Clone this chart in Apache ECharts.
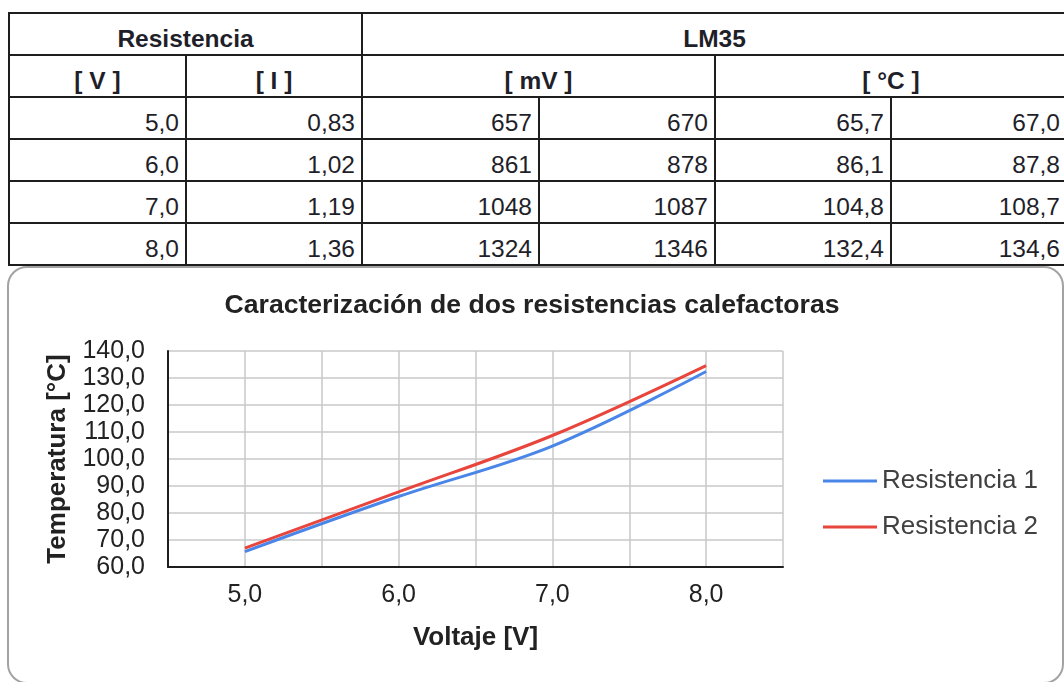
<!DOCTYPE html>
<html>
<head>
<meta charset="utf-8">
<script src="https://cdn.jsdelivr.net/npm/echarts@6/dist/echarts.min.js"></script>
<style>
  html, body { margin: 0; padding: 0; background: #fff; }
  body { width: 1064px; height: 682px; position: relative; overflow: hidden;
         font-family: 'Liberation Sans', Arial, sans-serif; }
  .cell { position: absolute; box-sizing: border-box; border: 2px solid #1e1e1e; background: #fff; }
  .txt { position: absolute; bottom: 2.5px; left: 0; right: 6px; font-size: 24.5px; line-height: 24.5px;
         color: #1f1f2a; white-space: nowrap; text-align: right; }
  .txt.h { font-weight: bold; text-align: center; right: 0; }
  #box { position: absolute; left: 7px; top: 266px; width: 1057px; height: 418px; box-sizing: border-box;
         border: 2px solid #a3a3a3; border-radius: 20px; background: #fff; }
  #chart { position: absolute; left: 0; top: 0; width: 1064px; height: 682px; }
</style>
</head>
<body>
<div id="table"></div>
<div id="box"></div>
<div id="chart"></div>
<script>
// ---- data ----
const voltage = [5.0, 6.0, 7.0, 8.0];
const current = [0.83, 1.02, 1.19, 1.36];
const mvR1 = [657, 861, 1048, 1324];
const mvR2 = [670, 878, 1087, 1346];
const tempR1 = [65.7, 86.1, 104.8, 132.4];
const tempR2 = [67.0, 87.8, 108.7, 134.6];
const groupHeaders = ['Resistencia', 'LM35'];
const unitHeaders = ['[ V ]', '[ I ]', '[ mV ]', '[ °C ]'];
const seriesNames = ['Resistencia 1', 'Resistencia 2'];
const chartTitle = 'Caracterización de dos resistencias calefactoras';
const xAxisName = 'Voltaje [V]';
const yAxisName = 'Temperatura [°C]';

// ---- table layout ----
const colX = [9, 186, 362, 539, 715, 891, 1067];
const rowY = [13, 55, 97, 139, 181, 223, 265];
const fmt = (v, d) => v.toFixed(d).replace('.', ',');
const tbl = document.getElementById('table');
function cell(c0, c1, r, text, header) {
  const d = document.createElement('div');
  d.className = 'cell';
  d.style.left = (colX[c0] - 1) + 'px';
  d.style.top = (rowY[r] - 1) + 'px';
  d.style.width = (colX[c1] - colX[c0] + 2) + 'px';
  d.style.height = (rowY[r + 1] - rowY[r] + 2) + 'px';
  const t = document.createElement('div');
  t.className = 'txt' + (header ? ' h' : '');
  t.textContent = text;
  d.appendChild(t);
  tbl.appendChild(d);
}
cell(0, 2, 0, groupHeaders[0], true);
cell(2, 6, 0, groupHeaders[1], true);
cell(0, 1, 1, unitHeaders[0], true);
cell(1, 2, 1, unitHeaders[1], true);
cell(2, 4, 1, unitHeaders[2], true);
cell(4, 6, 1, unitHeaders[3], true);
for (let i = 0; i < voltage.length; i++) {
  const r = i + 2;
  cell(0, 1, r, fmt(voltage[i], 1));
  cell(1, 2, r, fmt(current[i], 2));
  cell(2, 3, r, String(mvR1[i]));
  cell(3, 4, r, String(mvR2[i]));
  cell(4, 5, r, fmt(tempR1[i], 1));
  cell(5, 6, r, fmt(tempR2[i], 1));
}

// ---- chart ----
const FONT = "'Liberation Sans', Arial, sans-serif";
const chart = echarts.init(document.getElementById('chart'), null, { renderer: 'canvas' });
chart.setOption({
  animation: false,
  textStyle: { fontFamily: FONT },
  title: {
    text: chartTitle, left: 'center', top: 287,
    textStyle: { fontFamily: FONT, fontSize: 26.6, fontWeight: 'bold', color: '#222' }
  },
  legend: {
    orient: 'vertical', left: 818, top: 463, padding: 5, icon: 'rect',
    itemWidth: 54, itemHeight: 3, itemGap: 20,
    textStyle: { fontFamily: FONT, fontSize: 26, color: '#404040', lineHeight: 26 },
    data: seriesNames
  },
  grid: { left: 168, top: 351, width: 615, height: 216, containLabel: false },
  xAxis: {
    type: 'value', min: 4.5, max: 8.5, interval: 0.5,
    name: xAxisName, nameLocation: 'middle', nameGap: 58,
    nameTextStyle: { fontFamily: FONT, fontSize: 26, fontWeight: 'bold', color: '#222' },
    axisLine: { show: true, onZero: false, lineStyle: { color: '#1e1e1e', width: 2 } },
    axisTick: { show: false },
    axisLabel: {
      fontFamily: FONT, fontSize: 25, color: '#222', margin: 16,
      formatter: v => (Math.abs(v - Math.round(v)) < 1e-9 && v >= 5 && v <= 8) ? fmt(v, 1) : ''
    },
    splitLine: { show: true, lineStyle: { color: '#c8c8c8', width: 1.5 } }
  },
  yAxis: {
    type: 'value', min: 60, max: 140, interval: 10,
    name: yAxisName, nameLocation: 'middle', nameGap: 97,
    nameTextStyle: { fontFamily: FONT, fontSize: 26, fontWeight: 'bold', color: '#222' },
    axisLine: { show: true, lineStyle: { color: '#1e1e1e', width: 2 } },
    axisTick: { show: false },
    axisLabel: { fontFamily: FONT, fontSize: 25, color: '#222', margin: 23, formatter: v => fmt(v, 1) },
    splitLine: { show: true, lineStyle: { color: '#c8c8c8', width: 1.5 } }
  },
  series: [
    {
      name: seriesNames[0], type: 'line', smooth: 0.35, symbol: 'none',
      lineStyle: { color: '#4a86e8', width: 3 }, itemStyle: { color: '#4a86e8' },
      data: voltage.map((v, i) => [v, tempR1[i]])
    },
    {
      name: seriesNames[1], type: 'line', smooth: 0.35, symbol: 'none',
      lineStyle: { color: '#e8453c', width: 3 }, itemStyle: { color: '#e8453c' },
      data: voltage.map((v, i) => [v, tempR2[i]])
    }
  ]
});
</script>
</body>
</html>
